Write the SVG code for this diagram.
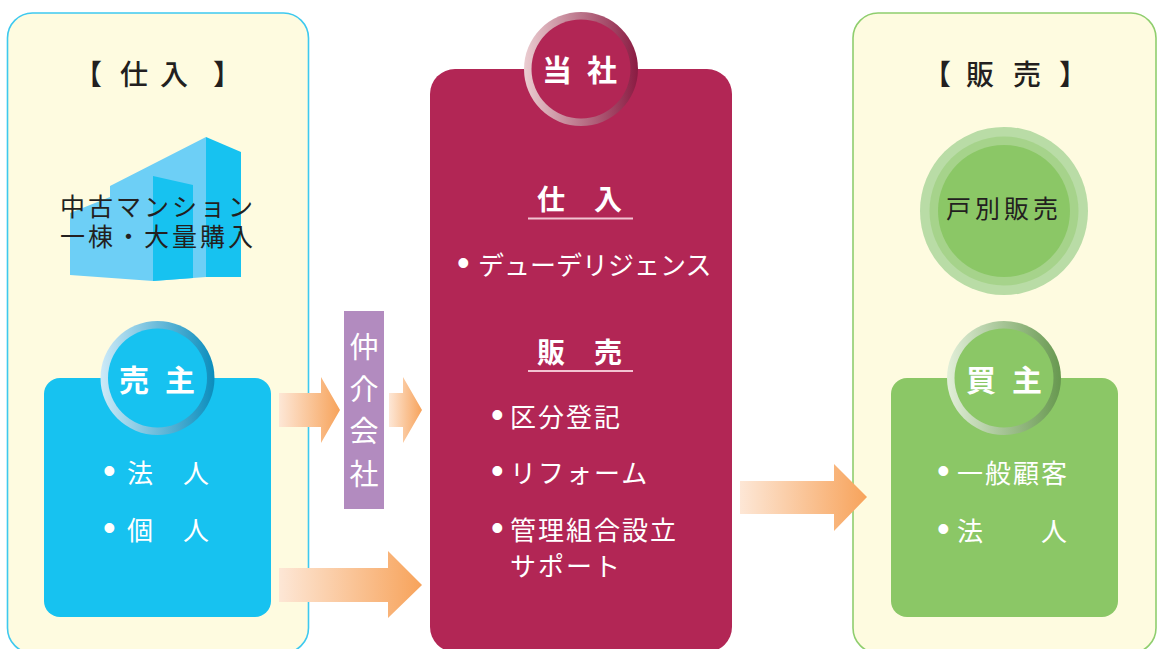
<svg xmlns="http://www.w3.org/2000/svg" width="1159" height="649" viewBox="0 0 1159 649">
  <defs>
    <style>
      text { font-family: "Noto Sans CJK JP", "Noto Sans", sans-serif; }
      .dark { fill: #231f20; }
      .wht { fill: #ffffff; }
      .title { font-size: 28px; font-weight: 500; }
      .head { font-size: 30px; font-weight: 700; }
      .sub { font-size: 28px; font-weight: 700; }
      .item { font-size: 26px; letter-spacing: 2px; }
      .dot { font-family: "Liberation Sans", sans-serif; font-size: 36px; letter-spacing: 0; }
      .panel { fill: #fefbe0; stroke-width: 1.6; }
      .rule { stroke: #f2c3d2; stroke-width: 2; }
    </style>
    <linearGradient id="arrowGrad" x1="0" y1="0" x2="1" y2="0">
      <stop offset="0" stop-color="#fde7d6"/>
      <stop offset="1" stop-color="#f7a35b"/>
    </linearGradient>
    <linearGradient id="ringBlue" x1="0" y1="0" x2="1" y2="0">
      <stop offset="0" stop-color="#cdeaf8"/>
      <stop offset="1" stop-color="#0a8dbd"/>
    </linearGradient>
    <linearGradient id="ringRed" x1="0" y1="0" x2="1" y2="0">
      <stop offset="0" stop-color="#ebcdd1"/>
      <stop offset="1" stop-color="#8a1b42"/>
    </linearGradient>
    <linearGradient id="ringGreen" x1="0" y1="0" x2="1" y2="0">
      <stop offset="0" stop-color="#e2efd9"/>
      <stop offset="1" stop-color="#67984f"/>
    </linearGradient>
  </defs>

  <!-- purchasing side -->
  <g id="purchase-panel">
    <rect class="panel" x="7.5" y="13" width="301" height="640" rx="25" stroke="#3ec9ef"/>
    <text class="title dark" x="74 120 160 213" y="85">【仕入】</text>
  </g>

  <g id="building">
    <polygon points="70,213 110,197 110,186 206,137 206,277 193,278 153,281 70,275" fill="#6dcff6"/>
    <polygon points="206,137 241,152 241,277 206,277" fill="#17c2f0"/>
    <polygon points="153,176 193,185 193,278 153,281" fill="#17c2f0"/>
    <text class="dark" font-size="25" letter-spacing="3" x="60" y="216">中古マンション</text>
    <text class="dark" font-size="25" letter-spacing="3" x="60" y="246">一棟・大量購入</text>
  </g>

  <g id="seller">
    <rect x="44" y="378" width="227" height="239" rx="16" fill="#17c2f0"/>
    <circle cx="157.5" cy="378" r="57" fill="url(#ringBlue)"/>
    <circle cx="157.5" cy="378" r="49.5" fill="#17c2f0"/>
    <text class="head wht" x="119 165" y="391">売主</text>
    <text class="item wht" y="483"><tspan class="dot" x="103">•</tspan><tspan x="127">法　人</tspan></text>
    <text class="item wht" y="540"><tspan class="dot" x="103">•</tspan><tspan x="127">個　人</tspan></text>
  </g>

  <g id="broker">
    <rect x="344" y="311" width="40" height="198" fill="#b28bbf"/>
    <g class="wht" font-size="29" text-anchor="middle">
      <text x="364" y="358">仲</text>
      <text x="364" y="400">介</text>
      <text x="364" y="442">会</text>
      <text x="364" y="485">社</text>
    </g>
  </g>

  <!-- company -->
  <g id="company">
    <rect x="430" y="69" width="302" height="583" rx="25" fill="#b22655"/>
    <circle cx="581" cy="69" r="57" fill="url(#ringRed)"/>
    <circle cx="581" cy="69" r="49.5" fill="#b22655"/>
    <text class="head wht" x="542 587" y="81">当社</text>

    <text class="sub wht" x="537 594" y="210">仕入</text>
    <line class="rule" x1="528" y1="218.5" x2="633" y2="218.5"/>
    <text class="wht" font-size="26" y="275"><tspan class="dot" x="457">•</tspan><tspan x="478">デューデリジェンス</tspan></text>

    <text class="sub wht" x="537 594" y="363">販売</text>
    <line class="rule" x1="528" y1="371" x2="633" y2="371"/>
    <text class="item wht" y="427"><tspan class="dot" x="491">•</tspan><tspan x="510">区分登記</tspan></text>
    <text class="item wht" y="483"><tspan class="dot" x="491">•</tspan><tspan x="510">リフォーム</tspan></text>
    <text class="item wht" y="540"><tspan class="dot" x="491">•</tspan><tspan x="510">管理組合設立</tspan></text>
    <text class="item wht" x="510" y="576">サポート</text>
  </g>

  <!-- sales side -->
  <g id="sales-panel">
    <rect class="panel" x="853" y="13" width="303" height="640" rx="25" stroke="#8fce6e"/>
    <text class="title dark" x="923 966 1013 1059" y="85">【販売】</text>
  </g>

  <g id="detached-sales">
    <circle cx="1004" cy="211" r="84" fill="#b9dca6"/>
    <circle cx="1004" cy="211" r="74.5" fill="#a6d38b"/>
    <circle cx="1004" cy="211" r="66" fill="#8bc766"/>
    <text class="dark" font-size="25" letter-spacing="4" x="946" y="218">戸別販売</text>
  </g>

  <g id="buyer">
    <rect x="891" y="378" width="227" height="239" rx="16" fill="#8bc766"/>
    <circle cx="1004" cy="378" r="57" fill="url(#ringGreen)"/>
    <circle cx="1004" cy="378" r="49.5" fill="#8bc766"/>
    <text class="head wht" x="966 1012" y="391">買主</text>
    <text class="item wht" y="483"><tspan class="dot" x="937">•</tspan><tspan x="957">一般顧客</tspan></text>
    <text class="item wht" y="541"><tspan class="dot" x="937">•</tspan><tspan x="957">法　　人</tspan></text>
  </g>

  <!-- flow arrows -->
  <g id="connectors" fill="url(#arrowGrad)">
    <polygon points="279,393 321,393 321,377 340,410 321,443 321,427 279,427"/>
    <polygon points="389,393 403,393 403,377 422,410 403,443 403,427 389,427"/>
    <polygon points="279,568 388,568 388,551 422,585 388,618 388,602 279,602"/>
    <polygon points="740,481 834,481 834,464 867,497 834,531 834,514 740,514"/>
  </g>
</svg>
